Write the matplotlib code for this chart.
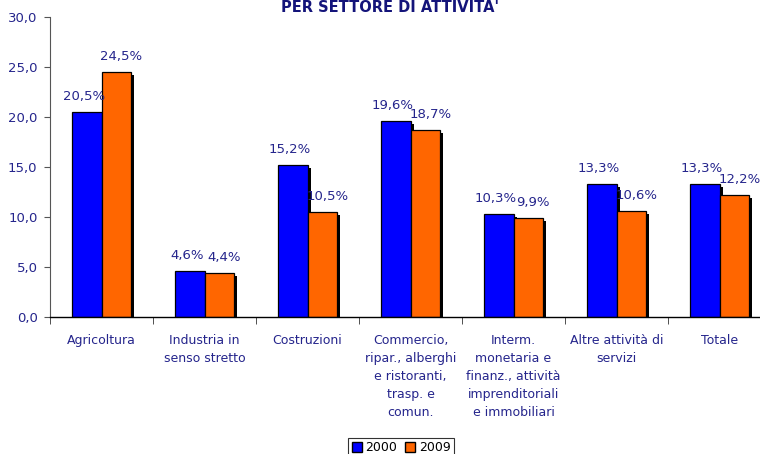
import matplotlib

matplotlib.use("Agg")
import matplotlib.pyplot as plt  # noqa: E402
import numpy as np  # noqa: E402
from matplotlib.patches import Patch  # noqa: E402

categories = [
    "Agricoltura",
    "Industria in\nsenso stretto",
    "Costruzioni",
    "Commercio,\nripar., alberghi\ne ristoranti,\ntrasp. e\ncomun.",
    "Interm.\nmonetaria e\nfinanz., attività\nimprenditoriali\ne immobiliari",
    "Altre attività di\nservizi",
    "Totale",
]
values_2000 = [20.5, 4.6, 15.2, 19.6, 10.3, 13.3, 13.3]
values_2009 = [24.5, 4.4, 10.5, 18.7, 9.9, 10.6, 12.2]
series_names = ["2000", "2009"]
y_ticks = [0, 5, 10, 15, 20, 25, 30]

BLUE = "#0000FF"
ORANGE = "#FF6600"
TEXT = "#25258C"

plt.rcParams["font.family"] = ["DejaVu Sans"]

fig = plt.figure(figsize=(7.6, 4.54), dpi=100)
W, H = 760, 454
ax = fig.add_axes([50 / W, (H - 317) / H, 721 / W, 300 / H])

x = np.arange(len(categories))
bw = 0.285
series = [(values_2000, -bw / 2, BLUE, -0.03), (values_2009, bw / 2, ORANGE, 0.05)]
for vals, off, col, lab_dx in series:
    # drop shadow
    ax.bar(x + off + 0.03, np.array(vals) - 0.3, bw, color="black", zorder=1)
    ax.bar(x + off, vals, bw, color=col, edgecolor="black", linewidth=0.9, zorder=2)
    for xi, v in zip(x, vals):
        ax.text(xi + off + lab_dx, v + 0.9, f"{v:.1f}%".replace(".", ","),
                ha="center", va="bottom", fontsize=9.5, color=TEXT)

ax.set_xlim(-0.5, len(categories) - 0.5)
ax.set_ylim(0, 30)
ax.set_yticks(y_ticks)
ax.set_yticklabels([f"{t:.1f}".replace(".", ",") for t in y_ticks])
ax.tick_params(axis="y", labelsize=9.5, labelcolor=TEXT, length=4, color="#555555", pad=5)

ax.set_xticks(x)
ax.set_xticklabels(categories, fontsize=9, color=TEXT, linespacing=1.5, va="top")
ax.tick_params(axis="x", length=0, pad=12)
ax.set_xticks(np.arange(len(categories) + 1) - 0.5, minor=True)
ax.tick_params(axis="x", which="minor", length=5, color="#333333")

for s in ["top", "right"]:
    ax.spines[s].set_visible(False)
ax.spines["left"].set_color("#555555")
ax.spines["bottom"].set_color("black")
ax.spines["bottom"].set_linewidth(1.0)

fig.text(390 / W, 1 - 7 / H, "PER SETTORE DI ATTIVITA'", ha="center", va="center",
         fontsize=10.5, fontweight="bold", color="#14147A")

handles = [Patch(facecolor=BLUE, edgecolor="black"), Patch(facecolor=ORANGE, edgecolor="black")]
leg = fig.legend(handles, series_names, loc="lower left", bbox_to_anchor=(348 / W, -4 / H),
                 ncol=2, fontsize=9, frameon=True, fancybox=False, handlelength=0.8,
                 handleheight=0.8, handletextpad=0.3, columnspacing=0.6, borderpad=0.3,
                 borderaxespad=0)
leg.get_frame().set_edgecolor("black")
leg.get_frame().set_linewidth(0.8)
for t in leg.get_texts():
    t.set_color("black")

fig.savefig("out.png", dpi=100)
